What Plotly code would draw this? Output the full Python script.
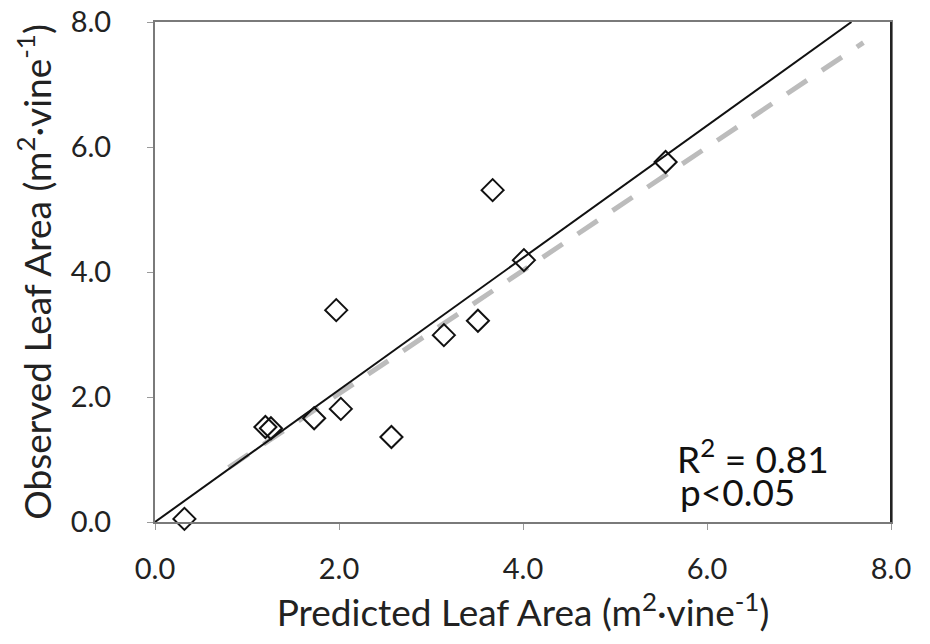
import plotly.graph_objects as go

# Predicted vs observed leaf area per vine (m2 per vine)
predicted = [0.32, 1.20, 1.26, 1.73, 2.02, 1.97, 2.57, 3.14, 3.51, 3.67, 4.01, 5.55]
observed = [0.05, 1.52, 1.50, 1.66, 1.81, 3.39, 1.36, 2.99, 3.22, 5.31, 4.19, 5.76]

# Fitted regression line (solid) and comparison trend line (dashed)
fit_x = [0.0, 7.57]
fit_y = [0.0, 8.0]
trend_x = [0.8, 7.70]
trend_y = [0.87, 7.67]

tick_vals = [0, 2, 4, 6, 8]
tick_text = ["0.0", "2.0", "4.0", "6.0", "8.0"]

FONT = "Lato, sans-serif"

fig = go.Figure()

fig.add_trace(go.Scatter(
    x=trend_x, y=trend_y, mode="lines",
    line=dict(color="#bcbcbc", width=5, dash="24px,18px"),
    hoverinfo="skip", showlegend=False,
))
fig.add_trace(go.Scatter(
    x=fit_x, y=fit_y, mode="lines",
    line=dict(color="#111111", width=2),
    hoverinfo="skip", showlegend=False,
))
fig.add_trace(go.Scatter(
    x=predicted, y=observed, mode="markers",
    marker=dict(symbol="diamond-open", size=17, color="#111111",
                line=dict(width=2, color="#111111")),
    cliponaxis=False, showlegend=False,
))

axis_common = dict(
    range=[0, 8],
    tickvals=tick_vals,
    ticktext=tick_text,
    showgrid=False,
    zeroline=False,
    showline=True,
    linecolor="#7a7a7a",
    linewidth=2,
    mirror=True,
    ticks="outside",
    ticklen=6,
    tickwidth=1,
    tickcolor="#9a9a9a",
    automargin=False,
    tickfont=dict(family=FONT, size=29, color="#222222"),
)

fig.update_layout(
    width=930, height=644,
    margin=dict(l=155, r=39, t=22, b=122),
    paper_bgcolor="white",
    plot_bgcolor="white",
    xaxis=dict(
        **axis_common,
        ticklabelstandoff=14,
        title=dict(text="Predicted Leaf Area (m<sup>2</sup>·vine<sup>-1</sup>)",
                   font=dict(family=FONT, size=37, color="#222222"),
                   standoff=6),
    ),
    yaxis=dict(
        **axis_common,
        ticklabelstandoff=30,
        title=dict(text="Observed Leaf Area (m<sup>2</sup>·vine<sup>-1</sup>)",
                   font=dict(family=FONT, size=37, color="#222222"),
                   standoff=8),
    ),
    font=dict(family=FONT),
)

# Darker right-hand frame edge
fig.add_shape(type="line", xref="paper", yref="paper",
              x0=1, x1=1, y0=0, y1=1,
              line=dict(color="#222222", width=2))

# Goodness-of-fit statistics in the lower right corner
fig.add_annotation(
    x=0.7065, y=0.132, xref="paper", yref="paper",
    xanchor="left", yanchor="middle",
    text="R<sup>2</sup> = 0.81", showarrow=False,
    font=dict(family=FONT, size=37, color="#111111"),
)
fig.add_annotation(
    x=0.7106, y=0.062, xref="paper", yref="paper",
    xanchor="left", yanchor="middle",
    text="p<0.05", showarrow=False,
    font=dict(family=FONT, size=37, color="#111111"),
)

fig.write_html("out.html")
